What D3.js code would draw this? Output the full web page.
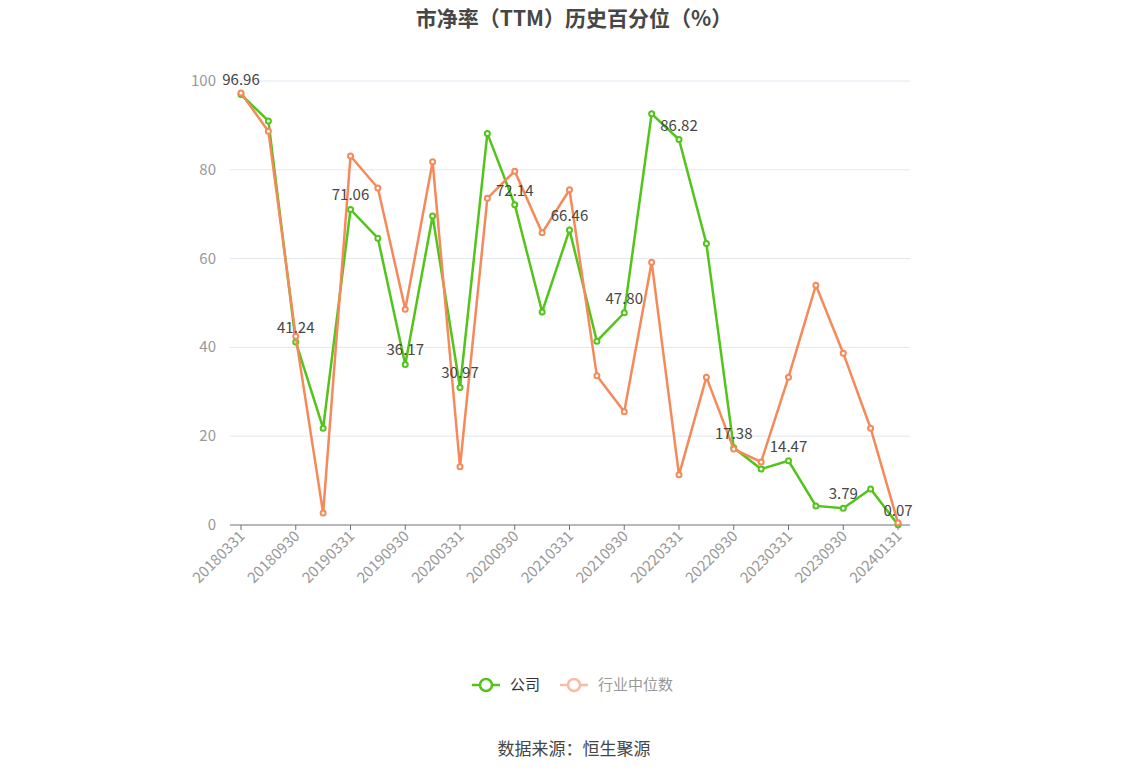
<!DOCTYPE html>
<html><head><meta charset="utf-8">
<script src="https://cdn.jsdelivr.net/npm/d3@7"></script>
<style>body{margin:0;background:#fff;font-family:"Noto Sans CJK SC","Noto Sans",sans-serif}</style>
</head><body><svg></svg>
<script>
var dates = ["20180331","20180630","20180930","20181231","20190331","20190630","20190930","20191231",
  "20200331","20200630","20200930","20201231","20210331","20210630","20210930","20211231",
  "20220331","20220630","20220930","20221231","20230331","20230630","20230930","20231231","20240131"];
var company = [96.96,91.0,41.24,21.8,71.06,64.6,36.17,69.6,30.97,88.2,72.14,48.0,66.46,41.4,47.80,92.6,
  86.82,63.4,17.38,12.6,14.47,4.3,3.79,8.1,0.07];
var industry = [97.3,88.7,42.5,2.7,83.1,75.9,48.6,81.8,13.1,73.6,79.7,65.8,75.5,33.6,25.5,59.2,
  11.3,33.3,17.1,14.2,33.3,54.0,38.7,21.8,0.5];
var yTicks = [0,20,40,60,80,100];

var svg = d3.select("svg").attr("width",1148).attr("height",776);
var x = d3.scalePoint().domain(dates).range([241,898]);
var y = d3.scaleLinear().domain([0,100]).range([525,81]);

svg.append("text").attr("x",574).attr("y",26).attr("text-anchor","middle")
  .attr("font-size",21).attr("font-weight","bold").attr("fill","#464646").text("市净率（TTM）历史百分位（%）");

yTicks.forEach(function(t){
  svg.append("line").attr("x1",230).attr("x2",910).attr("y1",y(t)).attr("y2",y(t))
    .attr("stroke",t==0?"#6e7079":"#e0e6f1");
  svg.append("text").attr("x",216).attr("y",y(t)+5).attr("text-anchor","end")
    .attr("font-size",15).attr("fill","#999").text(t);
});
dates.forEach(function(d,i){
  if(i%2) return;
  svg.append("line").attr("x1",x(d)).attr("x2",x(d)).attr("y1",525).attr("y2",530).attr("stroke","#6e7079");
  svg.append("text").attr("transform","translate("+(x(d)+5)+",537) rotate(-45)")
    .attr("text-anchor","end").attr("font-size",15).attr("fill","#999").text(d);
});

function series(vals,color){
  var line = d3.line().x(function(d,i){return x(dates[i]);}).y(function(d){return y(d);});
  svg.append("path").attr("d",line(vals)).attr("fill","none").attr("stroke",color).attr("stroke-width",2.5);
  svg.selectAll(null).data(vals).enter().append("circle")
    .attr("cx",function(d,i){return x(dates[i]);}).attr("cy",function(d){return y(d);})
    .attr("r",2.5).attr("fill","#fff").attr("stroke",color).attr("stroke-width",2);
}
series(company,"#52c41a");
series(industry,"#f5895a");

company.forEach(function(v,i){
  if(i%2) return;
  svg.append("text").attr("x",x(dates[i])).attr("y",y(v)-9).attr("text-anchor","middle")
    .attr("font-size",15).attr("fill","#464646").text(v.toFixed(2));
});

var leg = [{n:"公司",c:"#52c41a",x:472,tc:"#333"},{n:"行业中位数",c:"#f8bca3",x:560,tc:"#999"}];
leg.forEach(function(l){
  svg.append("line").attr("x1",l.x).attr("x2",l.x+28).attr("y1",685).attr("y2",685).attr("stroke",l.c).attr("stroke-width",2.5);
  svg.append("circle").attr("cx",l.x+14).attr("cy",685).attr("r",6).attr("fill","#fff").attr("stroke",l.c).attr("stroke-width",2.5);
  svg.append("text").attr("x",l.x+38).attr("y",690).attr("font-size",15).attr("fill",l.tc).text(l.n);
});
svg.append("text").attr("x",574).attr("y",755).attr("text-anchor","middle").attr("font-size",17).attr("fill","#464646").text("数据来源：恒生聚源");
</script></body></html>
